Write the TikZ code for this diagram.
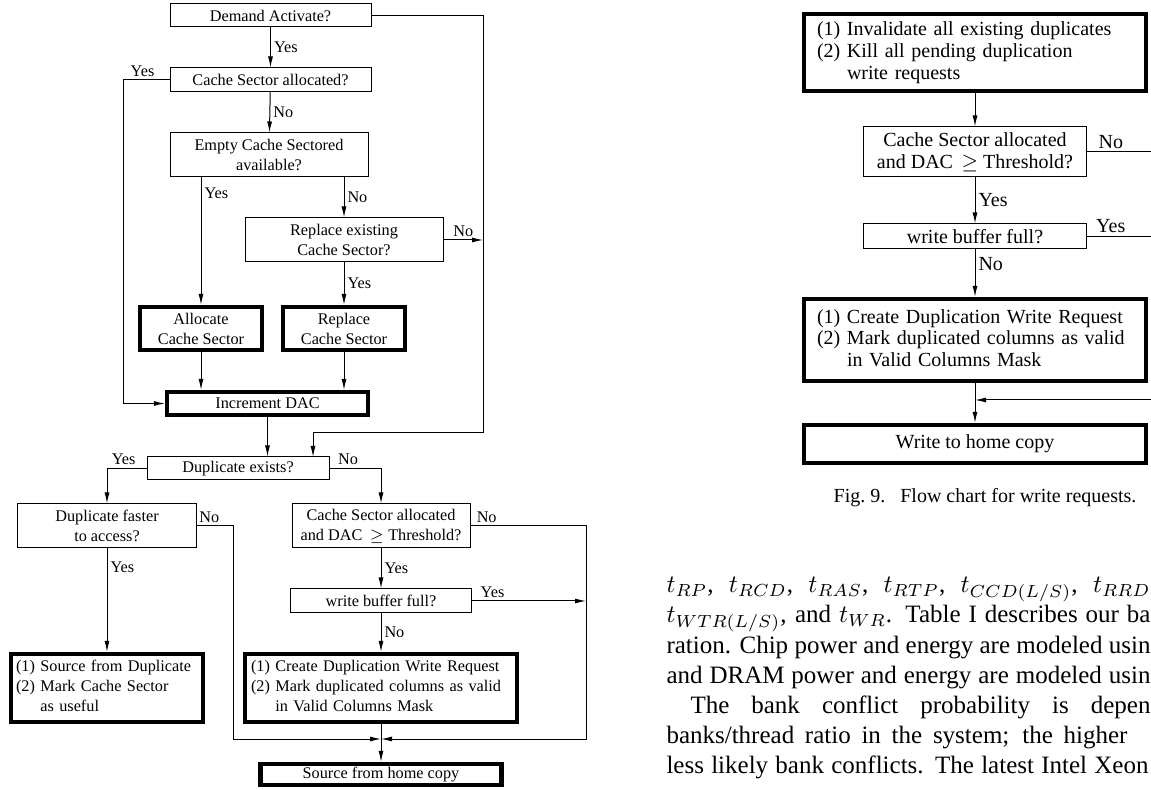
\documentclass[tikz,border=0pt]{standalone}
\usepackage{fontspec}
\setmainfont{Liberation Serif}
\usetikzlibrary{arrows.meta}

\newcommand{\chartsmall}{\fontsize{6.5}{8}\selectfont}
\newcommand{\chartbig}{\fontsize{8}{8.7}\selectfont}
\newcommand{\bodyfont}{\fontsize{10}{12}\selectfont}

\begin{document}
\begin{tikzpicture}[x=0.4pt, y=-0.4pt, >={Latex[length=4.4pt,width=2pt]},
    qbox/.style={draw, line width=0.4pt, inner sep=0pt, align=center, font=\chartsmall},
    actbox/.style={qbox, line width=1.7pt},
    lbl/.style={font=\chartsmall, inner sep=1.2pt},
    bigq/.style={qbox, font=\chartbig},
    bigact/.style={actbox, font=\chartbig},
    biglbl/.style={lbl, font=\chartbig},
    txtline/.style={anchor=base west, inner sep=0pt, font=\bodyfont}]

    \useasboundingbox (0,0) rectangle (1151,790);
    \clip (0,0) rectangle (1151,790);

    % read requests
    \node [qbox, minimum width=80.4pt, minimum height=9.2pt] (dact) at (270.5,15.5) {Demand Activate?};
    \node [qbox, minimum width=80.4pt, minimum height=9.6pt] (csa) at (270.5,80) {Cache Sector allocated?};
    \node [qbox, minimum width=79.2pt, minimum height=17.6pt] (ecs) at (269,155) {Empty Cache Sectored\\available?};
    \node [qbox, minimum width=79.2pt, minimum height=17.6pt] (res) at (344,240) {Replace existing\\Cache Sector?};
    \node [actbox, minimum width=48.8pt, minimum height=17.2pt] (alloc) at (201,328.5) {Allocate\\Cache Sector};
    \node [actbox, minimum width=48.8pt, minimum height=17.2pt] (repl) at (344,328.5) {Replace\\Cache Sector};
    \node [actbox, minimum width=80.4pt, minimum height=9.2pt] (inc) at (267.5,403.5) {Increment DAC};
    \node [qbox, minimum width=72.8pt, minimum height=9.2pt] (dup) at (238,468.5) {Duplicate exists?};
    \node [qbox, minimum width=71.6pt, minimum height=17.6pt] (dfast) at (107,526) {Duplicate faster\\to access?};
    \node [qbox, minimum width=71.2pt, minimum height=17.6pt] (csa2) at (381,526) {Cache Sector allocated\\and DAC $\,\geq$ Threshold?};
    \node [qbox, minimum width=72.4pt, minimum height=9.6pt] (wbf) at (381,601) {write buffer full?};
    \node [actbox, align=left, text width=72.8pt, inner xsep=2pt, minimum height=27.2pt] (src) at (107,688)
        {(1) Source from Duplicate\\(2) Mark Cache Sector\\\phantom{(2) }as useful};
    \node [actbox, align=left, text width=104pt, inner xsep=2.4pt, minimum height=27.2pt] (cdw) at (381,688)
        {(1) Create Duplication Write Request\\(2) Mark duplicated columns as valid\\\phantom{(2) }in Valid Columns Mask};
    \node [actbox, minimum width=96.4pt, minimum height=8.4pt] (home) at (381,774.5) {Source from home copy};

    \coordinate (rA) at (483,433);
    \coordinate (dupR) at (313,457);
    \coordinate (lA) at (123,403.5);
    \coordinate (mL) at (233,739);
    \coordinate (mR) at (586,739);
    \coordinate (mrg) at (381,739);

    \draw[->] (dact) -- node[lbl,right] (y1) {Yes} (csa);
    \draw[->] (dact.east) -| (rA) -| (dupR);
    \draw[->] (csa.west) -| node[lbl,above,pos=0.29] (y2) {Yes} (lA) -- (inc.west);
    \draw[->] (csa) -- node[lbl,right] (n1) {No} (ecs);
    \draw[->] (alloc.north |- ecs.south) -- node[lbl,right,pos=0.12] (y3) {Yes} (alloc.north);
    \draw[->] (res.north |- ecs.south) -- node[lbl,right] (n2) {No} (res.north);
    \draw[->] (res.east) -- node[lbl,above] (n3) {No} (res.east -| rA);
    \draw[->] (res) -- node[lbl,right] (y4) {Yes} (repl);
    \draw[->] (alloc.south) -- (alloc.south |- inc.north);
    \draw[->] (repl.south) -- (repl.south |- inc.north);
    \draw[->] (inc.south) -- (inc.south |- dup.north);
    \draw[->] (dup.west) -| node[lbl,above,pos=0.29] (y5) {Yes} (dfast.north);
    \draw[->] (dup.east) -| node[lbl,above,pos=0.18] (n4) {No} (csa2.north);
    \draw[->] (dfast.south) -- node[lbl,right,pos=0.18] (y6) {Yes} (dfast.south |- src.north);
    \draw[->] (dfast.east) -| node[lbl,above,pos=0.17] (n5) {No} (mL) -- (mrg);
    \draw[->] (csa2.east) -| node[lbl,above,pos=0.07] (n6) {No} (mR) -- (mrg);
    \draw[->] (csa2) -- node[lbl,right] (y7) {Yes} (wbf);
    \draw[->] (wbf.east) -- node[lbl,above,pos=0.18] (y8) {Yes} (wbf.east -| mR);
    \draw[->] (wbf) -- node[lbl,right] (n7) {No} (cdw);
    \draw[->] (cdw) -- (home);

    % write requests
    \node [bigact, align=left, text width=126.4pt, inner xsep=5.2pt, minimum height=30.8pt] (inv) at (975,52.5)
        {(1) Invalidate all existing duplicates\\(2) Kill all pending duplication\\\phantom{(2) }write requests};
    \node [bigq, minimum width=89.2pt, minimum height=20pt] (csa3) at (975,152) {Cache Sector allocated\\and DAC $\,\geq$ Threshold?};
    \node [bigq, minimum width=89.2pt, minimum height=10pt] (wbf3) at (975,236.5) {write buffer full?};
    \node [bigact, align=left, text width=126.4pt, inner xsep=5.2pt, minimum height=32.8pt] (cdw3) at (975,340)
        {(1) Create Duplication Write Request\\(2) Mark duplicated columns as valid\\\phantom{(2) }in Valid Columns Mask};
    \node [bigact, minimum width=136.8pt, minimum height=15.2pt] (home3) at (975,444) {Write to home copy};

    \coordinate (rR) at (1175,400);
    \coordinate (mrg3) at (975,400);

    \draw[->] (inv) -- (csa3);
    \draw[->] (csa3) -- node[biglbl,right] (y9) {Yes} (wbf3);
    \draw[->] (wbf3) -- node[biglbl,right,pos=0.3] (n8) {No} (cdw3);
    \draw[->] (cdw3) -- (home3);
    \draw[->] (csa3.east) -| node[biglbl,above,pos=0.135] (n9) {No} (rR) -- (mrg3);
    \draw[->] (wbf3.east) -- node[biglbl,above,pos=0.27] (y10) {Yes} (wbf3.east -| rR);

    \node [inner sep=0pt, font=\fontsize{8}{9.6}\selectfont] (cap) at (985,498) {Fig.~9.\hspace{6pt}Flow chart for write requests.};

    % column text
    \node [txtline] (ln1) at (666,593) {\makebox[193.6pt][s]{$t_{RP}$, $t_{RCD}$, $t_{RAS}$, $t_{RTP}$, $t_{CCD(L/S)}$, $t_{RRD}$}};
    \node [txtline] (ln2) at (666,623) {\makebox[193.6pt][s]{$t_{WTR(L/S)}$, and $t_{WR}$. Table I describes our ba}};
    \node [txtline] (ln3) at (666,653) {\makebox[193.6pt][s]{ration. Chip power and energy are modeled usin}};
    \node [txtline] (ln4) at (666,683) {\makebox[193.6pt][s]{and DRAM power and energy are modeled usin}};
    \node [txtline] (ln5) at (690,713) {\makebox[184pt][s]{The bank conflict probability is depen}};
    \node [txtline] (ln6) at (666,743) {\makebox[184.4pt][s]{banks/thread ratio in the system; the higher}};
    \node [txtline] (ln7) at (666,773) {\makebox[192.8pt][s]{less likely bank conflicts. The latest Intel Xeon}};

\end{tikzpicture}
\end{document}
